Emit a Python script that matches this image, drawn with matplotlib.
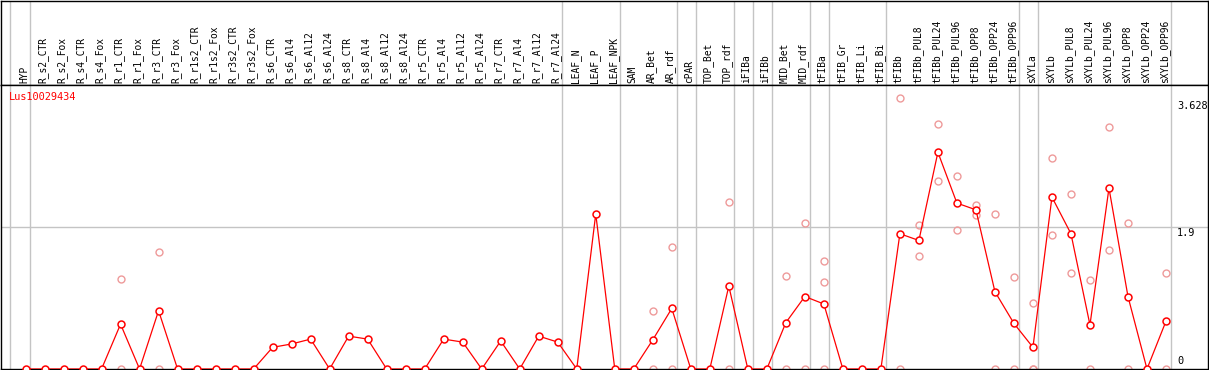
import numpy as np
import matplotlib
matplotlib.use("Agg")
import matplotlib.pyplot as plt
import matplotlib.transforms as mtransforms

gene = "Lus10029434"

samples = ["HYP",
           "R_s2_CTR", "R_s2_Fox", "R_s4_CTR", "R_s4_Fox",
           "R_r1_CTR", "R_r1_Fox", "R_r3_CTR", "R_r3_Fox",
           "R_r1s2_CTR", "R_r1s2_Fox", "R_r3s2_CTR", "R_r3s2_Fox",
           "R_s6_CTR", "R_s6_Al4", "R_s6_Al12", "R_s6_Al24",
           "R_s8_CTR", "R_s8_Al4", "R_s8_Al12", "R_s8_Al24",
           "R_r5_CTR", "R_r5_Al4", "R_r5_Al12", "R_r5_Al24",
           "R_r7_CTR", "R_r7_Al4", "R_r7_Al12", "R_r7_Al24",
           "LEAF_N", "LEAF_P", "LEAF_NPK",
           "SAM", "AR_Bet", "AR_rdf",
           "cPAR",
           "TOP_Bet", "TOP_rdf",
           "iFIBa",
           "iFIBb",
           "MID_Bet", "MID_rdf",
           "tFIBa",
           "tFIB_Gr", "tFIB_Li", "tFIB_Bi",
           "tFIBb", "tFIBb_PUL8", "tFIBb_PUL24", "tFIBb_PUL96",
           "tFIBb_OPP8", "tFIBb_OPP24", "tFIBb_OPP96",
           "sXYLa",
           "sXYLb", "sXYLb_PUL8", "sXYLb_PUL24", "sXYLb_PUL96",
           "sXYLb_OPP8", "sXYLb_OPP24", "sXYLb_OPP96"]

# number of samples in each group (grey separators between groups)
group_sizes = [1, 28, 3, 3, 1, 2, 1, 1, 2, 1, 3, 7, 1, 7]

means = [0, 0, 0, 0, 0, 0.60, 0, 0.78, 0, 0, 0, 0, 0,
         0.29, 0.335, 0.40, 0, 0.44, 0.40, 0, 0,
         0, 0.40, 0.36, 0, 0.375, 0, 0.44, 0.36,
         0, 2.075, 0,
         0, 0.39, 0.81,
         0,
         0, 1.11,
         0,
         0,
         0.62, 0.97,
         0.87,
         0, 0, 0,
         1.81, 1.72, 2.90, 2.22, 2.13, 1.035, 0.61,
         0.29,
         2.30, 1.81, 0.59, 2.42, 0.97, 0, 0.64]

# individual replicates (empty where they sit under the mean)
reps = {
    "R_r1_CTR": [1.21, 0],
    "R_r3_CTR": [1.56, 0],
    "AR_Bet": [0.78, 0],
    "AR_rdf": [1.63, 0],
    "TOP_rdf": [2.23, 0],
    "MID_Bet": [1.24, 0],
    "MID_rdf": [1.95, 0],
    "tFIBa": [1.44, 1.16, 0],
    "tFIBb": [3.628, 0],
    "tFIBb_PUL8": [1.93, 1.51],
    "tFIBb_PUL24": [3.28, 2.51],
    "tFIBb_PUL96": [2.58, 1.86],
    "tFIBb_OPP8": [2.19, 2.06],
    "tFIBb_OPP24": [2.07, 0],
    "tFIBb_OPP96": [1.23, 0],
    "sXYLa": [0.88, 0, 0],
    "sXYLb": [2.82, 1.79],
    "sXYLb_PUL8": [2.34, 1.285],
    "sXYLb_PUL24": [1.19, 0],
    "sXYLb_PUL96": [3.235, 1.59],
    "sXYLb_OPP8": [1.96, 0],
    "sXYLb_OPP24": [],
    "sXYLb_OPP96": [1.28, 0],
}

ymax = 3.628
mid = 1.9

font = "DejaVu Sans Mono"
grey = "#c4c4c4"
red = "#ff0000"
pink = "#ee9a9a"

W, H = 1209, 370
fig = plt.figure(figsize=(W / 100, H / 100), dpi=100)

x = np.arange(len(samples))
xlim = (-1.316, 62.21)

head = fig.add_axes([0.5 / W, (H - 85) / H, 1207.5 / W, 84.5 / H])
ax = fig.add_axes([0.5 / W, 1 / H, 1207.5 / W, 284 / H])

for a in (head, ax):
    a.set_xlim(*xlim)
    a.set_xticks([])
    a.set_yticks([])
    for s in a.spines.values():
        s.set_color("black")
        s.set_linewidth(1.0)

head.set_ylim(0, 1)
ax.set_ylim(0, 3.80)

# group separators
bounds = [-0.8] + list(np.cumsum(group_sizes) - 0.75)
for b in bounds:
    head.axvline(b, color=grey, lw=1.0, zorder=0)
    ax.axvline(b, color=grey, lw=1.0, zorder=0)
ax.axhline(mid, color=grey, lw=1.0, zorder=0)

for i, name in enumerate(samples):
    head.text(i - 0.07, 0.025, name, rotation=90, ha="center", va="bottom",
              fontsize=6.9, family=font)

# replicates
for i, name in enumerate(samples):
    vals = reps.get(name, [])
    if vals:
        ax.plot([i] * len(vals), vals, "o", ms=5, mfc="none", mec=pink,
                mew=1.0, zorder=2)

ax.plot(x, means, "-", color=red, lw=0.9, zorder=3)
ax.plot(x, means, "o", ms=5, mfc="white", mec=red, mew=1.1, zorder=4)

ax.text(8 / W, 0.976, gene, transform=ax.transAxes, color=red,
        fontsize=7.4, family=font, va="top", ha="left")

tr = mtransforms.blended_transform_factory(ax.transAxes, ax.transData)
xr = (1177 - 1) / 1207
ax.annotate("3.628", (xr, ymax), xycoords=tr, xytext=(0, -3),
            textcoords="offset pixels", fontsize=7.4, family=font,
            va="top", ha="left")
ax.annotate("1.9", (xr, mid), xycoords=tr, xytext=(0, -1),
            textcoords="offset pixels", fontsize=7.4, family=font,
            va="top", ha="left")
ax.annotate("0", (xr, 0), xycoords=tr, xytext=(0, 3),
            textcoords="offset pixels", fontsize=7.4, family=font,
            va="bottom", ha="left")

fig.savefig("out.png", dpi=100)
